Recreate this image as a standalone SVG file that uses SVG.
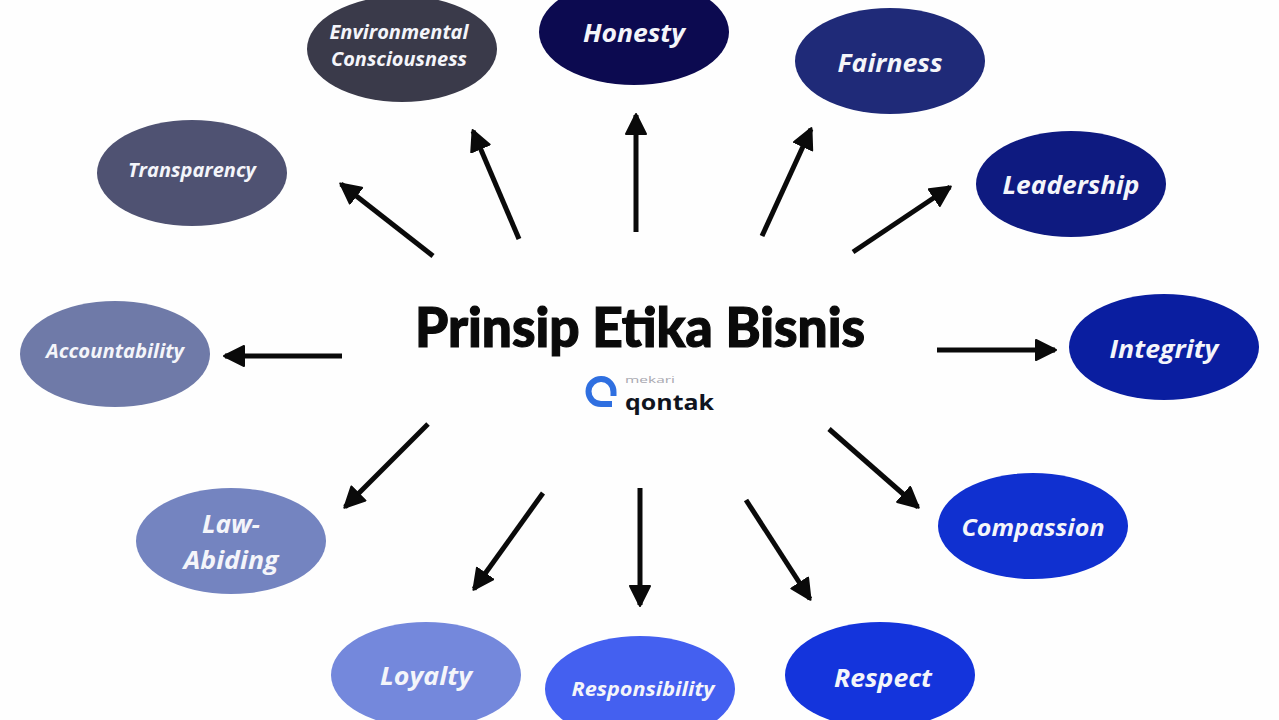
<svg xmlns="http://www.w3.org/2000/svg" width="1279" height="720" viewBox="0 0 1279 720">
<style>
.n text{font-family:"Open Sans","Liberation Sans",sans-serif;font-weight:700;font-style:italic;fill:#f4f5fa;text-anchor:middle}
.a{stroke:#0a0a0a;stroke-width:5;fill:none;marker-end:url(#h)}
.t{font-family:Lato,"Liberation Sans",sans-serif;font-weight:900;fill:#0a0a0a;stroke:#0a0a0a;stroke-width:1.2}
</style>
<defs><marker id="h" markerUnits="userSpaceOnUse" markerWidth="26" markerHeight="26" refX="20" refY="11" orient="auto"><path d="M1 1L21 11L1 21Z" fill="#0a0a0a" stroke="#0a0a0a" stroke-width="2" stroke-linejoin="round"/></marker></defs>
<rect width="1279" height="720" fill="#fefefe"/>
<g id="connectors">
<path class="a" d="M433 256L341 184"/>
<path class="a" d="M519 239L473 131"/>
<path class="a" d="M636 232V115"/>
<path class="a" d="M762 236L811 129"/>
<path class="a" d="M853 252L950 187"/>
<path class="a" d="M937 350H1055"/>
<path class="a" d="M829 429L918 507"/>
<path class="a" d="M746 500L810 599"/>
<path class="a" d="M640 488V605"/>
<path class="a" d="M543 493L474 589"/>
<path class="a" d="M428 424L345 507"/>
<path class="a" d="M342 356H225"/>
</g>
<g id="honesty" class="n"><ellipse cx="634" cy="32" rx="95" ry="53" fill="#0c0a50"/><text x="634" y="42" font-size="25" textLength="102" lengthAdjust="spacingAndGlyphs">Honesty</text></g>
<g id="environmental" class="n"><ellipse cx="402" cy="49" rx="95" ry="53" fill="#3a3a4a"/><text x="399" y="39" font-size="19" textLength="139" lengthAdjust="spacingAndGlyphs">Environmental</text><text x="399" y="66" font-size="19" textLength="136" lengthAdjust="spacingAndGlyphs">Consciousness</text></g>
<g id="fairness" class="n"><ellipse cx="890" cy="61" rx="95" ry="53" fill="#1f2a78"/><text x="890" y="72" font-size="25" textLength="105" lengthAdjust="spacingAndGlyphs">Fairness</text></g>
<g id="transparency" class="n"><ellipse cx="192" cy="173" rx="95" ry="53" fill="#4f5272"/><text x="192" y="177" font-size="19.5" textLength="128" lengthAdjust="spacingAndGlyphs">Transparency</text></g>
<g id="leadership" class="n"><ellipse cx="1071" cy="184" rx="95" ry="53" fill="#0e1a80"/><text x="1071" y="194" font-size="25" textLength="137" lengthAdjust="spacingAndGlyphs">Leadership</text></g>
<g id="accountability" class="n"><ellipse cx="115" cy="354" rx="95" ry="53" fill="#6f7aa8"/><text x="115" y="358" font-size="19.5" textLength="138" lengthAdjust="spacingAndGlyphs">Accountability</text></g>
<g id="integrity" class="n"><ellipse cx="1164" cy="347" rx="95" ry="53" fill="#0a1ea0"/><text x="1164" y="358" font-size="25" textLength="109" lengthAdjust="spacingAndGlyphs">Integrity</text></g>
<g id="law-abiding" class="n"><ellipse cx="231" cy="541" rx="95" ry="53" fill="#7484c0"/><text x="231" y="533" font-size="25" textLength="58" lengthAdjust="spacingAndGlyphs">Law-</text><text x="231" y="569" font-size="25" textLength="95" lengthAdjust="spacingAndGlyphs">Abiding</text></g>
<g id="compassion" class="n"><ellipse cx="1033" cy="526" rx="95" ry="53" fill="#1030d0"/><text x="1033" y="536" font-size="23.5" textLength="143" lengthAdjust="spacingAndGlyphs">Compassion</text></g>
<g id="loyalty" class="n"><ellipse cx="426" cy="675" rx="95" ry="53" fill="#7488dc"/><text x="426" y="685" font-size="25" textLength="92" lengthAdjust="spacingAndGlyphs">Loyalty</text></g>
<g id="responsibility" class="n"><ellipse cx="640" cy="689" rx="95" ry="53" fill="#4460f0"/><text x="643" y="696" font-size="20" textLength="143" lengthAdjust="spacingAndGlyphs">Responsibility</text></g>
<g id="respect" class="n"><ellipse cx="880" cy="675" rx="95" ry="53" fill="#1434dc"/><text x="883" y="687" font-size="25" textLength="98" lengthAdjust="spacingAndGlyphs">Respect</text></g>
<g id="title"><text class="t" x="415" y="347" font-size="55" textLength="450" lengthAdjust="spacingAndGlyphs">Prinsip Etika Bisnis</text></g>
<g id="logo"><path d="M612 404H601A12.500 12.500 0 1 1 613.500 392V396" fill="none" stroke="#2f6fe0" stroke-width="6"/><text x="625" y="383" font-family="Open Sans,sans-serif" font-size="9" textLength="50" lengthAdjust="spacingAndGlyphs" fill="#a8a8b0">mekari</text><text x="625" y="410" font-family="Open Sans,sans-serif" font-weight="700" font-size="21" textLength="89" lengthAdjust="spacingAndGlyphs" fill="#10141e">qontak</text></g>
</svg>
